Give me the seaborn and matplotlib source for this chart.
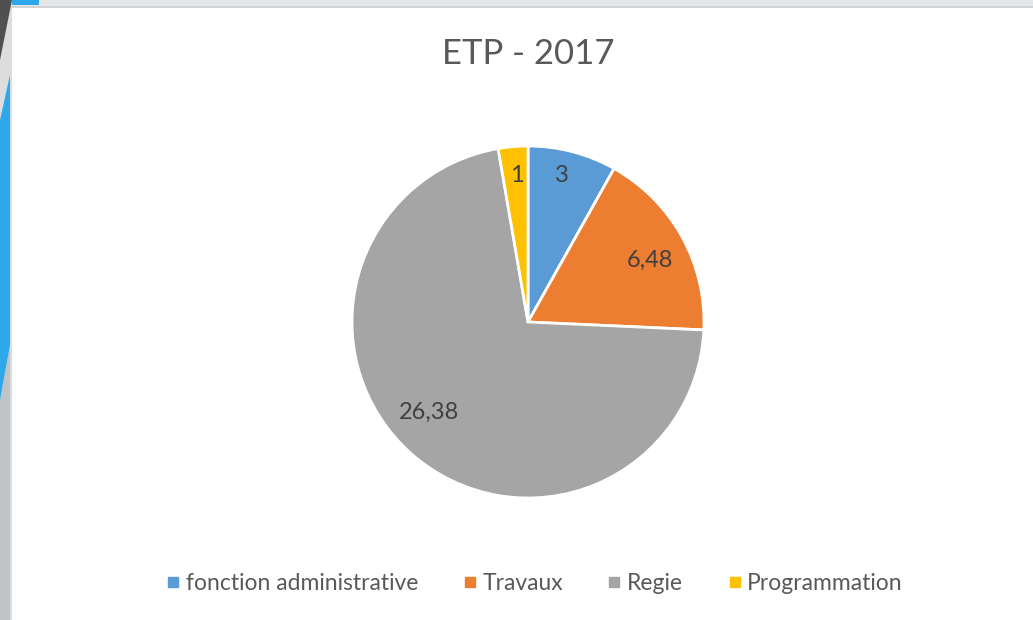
import matplotlib.pyplot as plt
from matplotlib.patches import Rectangle, Polygon
from matplotlib.lines import Line2D
import seaborn as sns

# data
categories = ["fonction administrative", "Travaux", "Regie", "Programmation"]
values = [3, 6.48, 26.38, 1]
value_labels = ["3", "6,48", "26,38", "1"]
colors = ["#5B9BD5", "#ED7D31", "#A5A5A5", "#FFC000"]

# where the value labels sit inside the pie (in pie radius units)
label_pos = [(0.193, 0.835), (0.693, 0.352), (-0.563, -0.511), (-0.063, 0.835)]

sns.set_theme(style="white")
plt.rcParams["font.family"] = ["Lato", "DejaVu Sans"]
text_color = "#595959"

W, H = 1033, 620
fig = plt.figure(figsize=(W / 100, H / 100), dpi=100)
fig.patch.set_facecolor("white")

# slide decoration (left edge and top band)
def px(points):
    return [(x / W, 1 - y / H) for x, y in points]

fig.patches.append(Rectangle((0, 0), 12 / W, 1, transform=fig.transFigure,
                             facecolor="#DCDDDE", edgecolor="none"))
fig.patches.append(Polygon(px([(0, 400), (10, 345), (10, 620), (0, 620)]),
                           transform=fig.transFigure, facecolor="#C0C4C6", edgecolor="none"))
fig.patches.append(Polygon(px([(0, 120), (10, 75), (10, 345), (0, 400)]),
                           transform=fig.transFigure, facecolor="#2EA8EA", edgecolor="none"))
fig.patches.append(Polygon(px([(0, 0), (12, 0), (0, 60)]),
                           transform=fig.transFigure, facecolor="#505050", edgecolor="none"))
fig.patches.append(Rectangle((12 / W, 1 - 7 / H), 1, 7 / H, transform=fig.transFigure,
                             facecolor="#E6E7E8", edgecolor="none"))
fig.patches.append(Rectangle((12 / W, 1 - 8 / H), 1, 1.5 / H, transform=fig.transFigure,
                             facecolor="#D2D3D4", edgecolor="none"))
fig.patches.append(Rectangle((12 / W, 1 - 4.5 / H), 27 / W, 4.5 / H, transform=fig.transFigure,
                             facecolor="#2EA8EA", edgecolor="none"))

# pie
cx, cy, r = 528, 322, 176
ax = fig.add_axes([(cx - r) / W, (H - cy - r) / H, 2 * r / W, 2 * r / H])
wedges, _, autotexts = ax.pie(values, colors=colors, startangle=90, counterclock=False,
                              autopct="%1.0f", pctdistance=0.83,
                              wedgeprops=dict(edgecolor="white", linewidth=2))
for t, lab, pos in zip(autotexts, value_labels, label_pos):
    t.set_text(lab)
    t.set_position(pos)
    t.set_color("#404040")
    t.set_fontsize(17)
ax.set_xlim(-1, 1)
ax.set_ylim(-1, 1)
ax.set_aspect("equal")

fig.text(cx / W, 1 - 54.5 / H, "ETP - 2017", ha="center", va="center",
         fontsize=25, color=text_color)

handles = [Line2D([], [], marker="s", linestyle="none", markersize=7,
                  markerfacecolor=c, markeredgecolor=c) for c in colors]
fig.legend(handles, categories, loc="center", bbox_to_anchor=(534 / W, 1 - 584 / H),
           ncol=4, frameon=False, fontsize=16.5, labelcolor=text_color,
           handletextpad=0.2, columnspacing=1.9, handlelength=0.7)

fig.savefig("out.png", dpi=100)
